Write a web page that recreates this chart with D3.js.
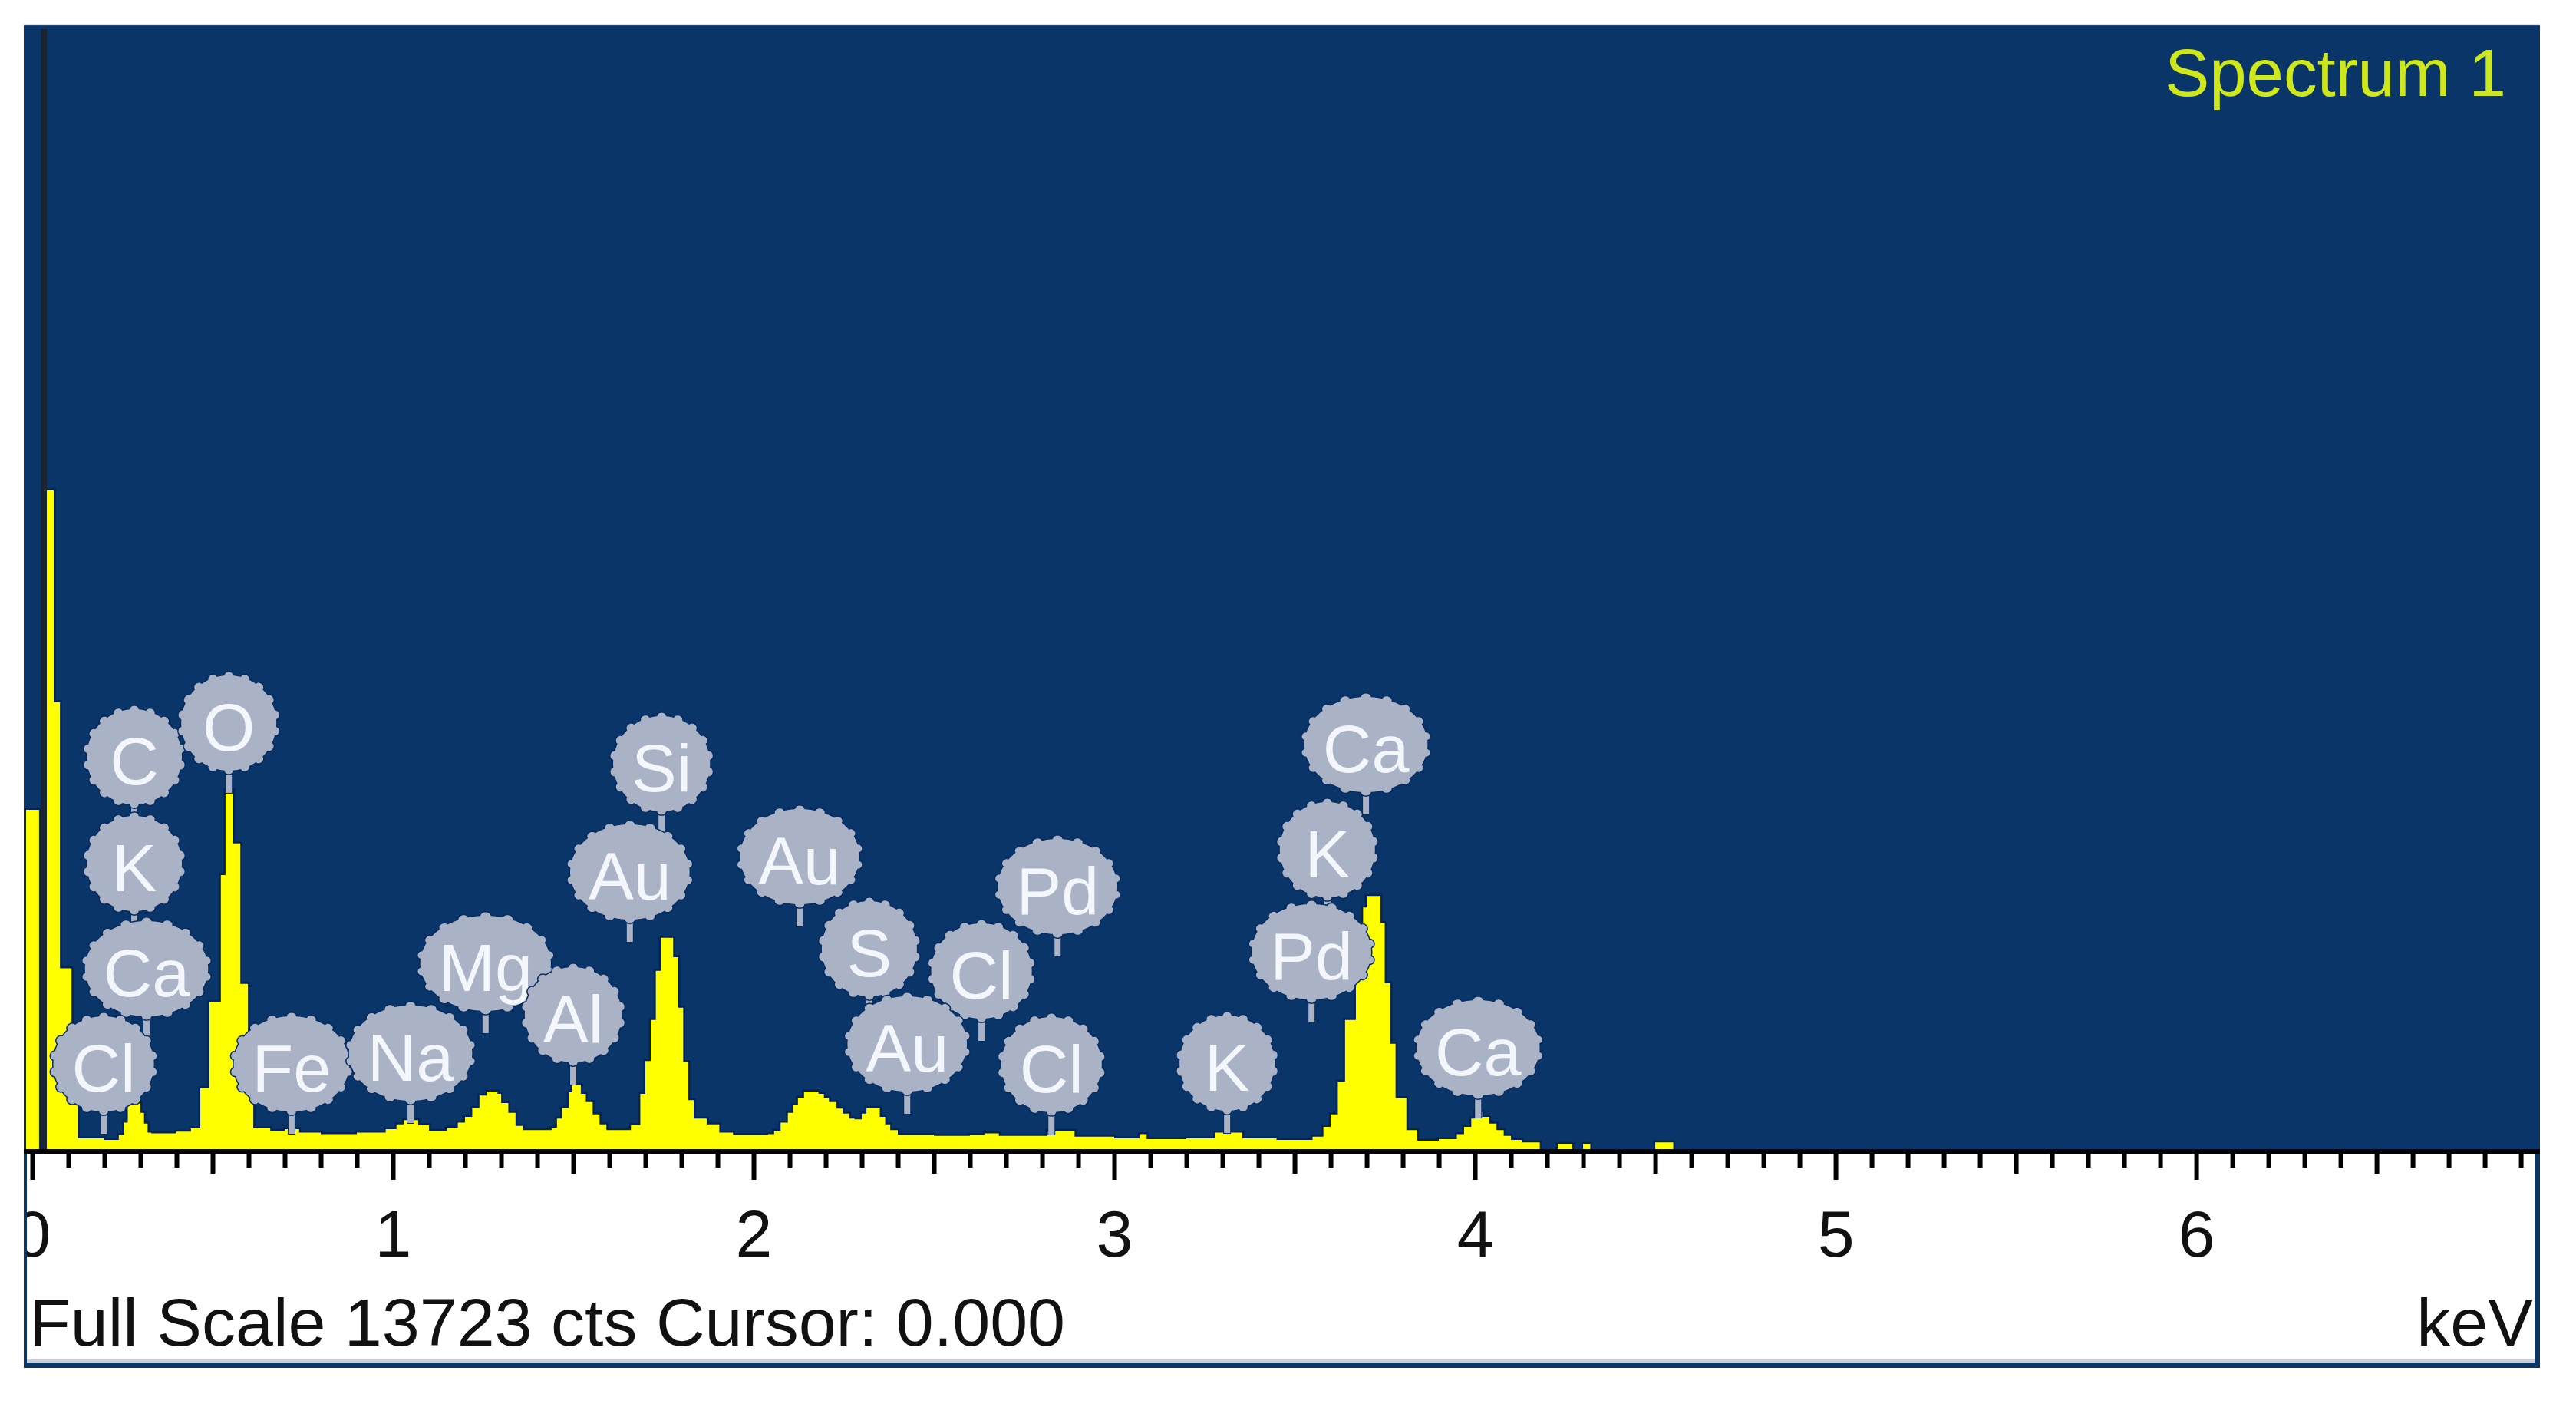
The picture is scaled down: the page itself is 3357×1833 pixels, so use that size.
<!DOCTYPE html>
<html><head><meta charset="utf-8">
<script src="https://cdn.jsdelivr.net/npm/d3@7"></script>
<style>html,body{margin:0;padding:0;background:#fff;} svg{display:block;}</style>
</head><body>
<svg id="chart" width="3357" height="1833"></svg>
<script>
// ---------------- data ----------------
const fullScale = 13723;            // counts at the top of the plot
const cursorText = "0.000";
const cursorKeV = 0.032;            // where the cursor line is drawn
const spectrumName = "Spectrum 1";
const xDomain = [-0.0234, 6.953];   // visible keV range
const majorTicks = [0, 1, 2, 3, 4, 5, 6];
const tickLabels = ["0", "1", "2", "3", "4", "5", "6"];

// histogram steps: energy (keV, left edge of step) and counts
const energies = [
  -0.017, 0.019, 0.036, 0.060, 0.077, 0.109, 0.126, 0.20, 0.24, 0.255,
  0.265, 0.275, 0.29, 0.30, 0.31, 0.32, 0.33, 0.40, 0.44, 0.466,
  0.491, 0.523, 0.536, 0.557, 0.577, 0.598, 0.613, 0.66, 0.70, 0.74,
  0.80, 0.90, 0.98, 1.01, 1.03, 1.07, 1.10, 1.15, 1.18, 1.20,
  1.22, 1.24, 1.26, 1.29, 1.30, 1.32, 1.34, 1.36, 1.44, 1.455,
  1.469, 1.488, 1.497, 1.521, 1.535, 1.554, 1.573, 1.592, 1.66, 1.686,
  1.70, 1.715, 1.729, 1.743, 1.777, 1.791, 1.805, 1.819, 1.834, 1.87,
  1.905, 1.943, 2.04, 2.057, 2.075, 2.095, 2.11, 2.123, 2.14, 2.18,
  2.195, 2.209, 2.23, 2.247, 2.265, 2.28, 2.30, 2.313, 2.35, 2.365,
  2.379, 2.40, 2.50, 2.60, 2.64, 2.68, 2.80, 2.815, 2.89, 3.00,
  3.07, 3.09, 3.20, 3.28, 3.355, 3.45, 3.55, 3.58, 3.60, 3.62,
  3.64, 3.67, 3.69, 3.70, 3.738, 3.75, 3.766, 3.78, 3.81, 3.84,
  3.90, 3.95, 3.97, 3.99, 4.00, 4.02, 4.04, 4.06, 4.08, 4.10,
  4.13, 4.18, 4.23, 4.27, 4.30, 4.32, 4.50, 4.55, 6.953
];
const counts = [
  4160, 0, 8050, 5470, 2230, 1300, 160, 140, 200, 350,
  560, 710, 600, 470, 340, 230, 220, 240, 280, 770,
  1820, 3365, 4400, 3750, 2040, 710, 280, 250, 270, 230,
  210, 230, 270, 330, 380, 320, 250, 290, 350, 420,
  530, 680, 730, 700, 590, 470, 310, 260, 290, 400,
  530, 720, 810, 700, 600, 450, 330, 260, 320, 700,
  1100, 1600, 2200, 2600, 2365, 1750, 1090, 625, 400, 330,
  230, 200, 210, 250, 350, 470, 560, 655, 730, 700,
  650, 600, 520, 460, 400, 390, 460, 530, 420, 330,
  260, 200, 190, 200, 220, 190, 190, 250, 180, 160,
  210, 150, 160, 230, 160, 140, 180, 300, 450, 850,
  1600, 2200, 2970, 3110, 2780, 2050, 1310, 650, 260, 130,
  150, 210, 300, 400, 480, 420, 340, 260, 190, 140,
  110, 0, 90, 0, 90, 0, 110, 0, 0
];

// element line markers: symbol, line energy (keV), count level where the marker stem ends
const lineSymbols  = ["C", "K", "Ca", "Cl", "O", "Fe", "Na", "Mg", "Al", "Si", "Au", "Au", "S", "Cl", "Au", "Pd", "Cl", "K", "Ca", "K", "Pd", "Ca"];
const lineEnergies = [0.283, 0.283, 0.317, 0.198, 0.545, 0.719, 1.049, 1.257, 1.500, 1.745, 1.657, 2.128, 2.321, 2.632, 2.426, 2.843, 2.826, 3.313, 3.698, 3.591, 3.547, 4.009];
const lineLevels   = [3954, 2655, 1374, 215, 4366, 215, 346, 1440, 813, 3870, 2552, 2739, 1617, 1346, 458, 2374, 206, 224, 4104, 2823, 1580, 411];

// ---------------- drawing ----------------
const svg = d3.select("#chart");
const L = 31, R = 3310, T = 32, B = 1500;
const navy = "#0a3569", yellow = "#ffff00";
const font = "'Liberation Sans', Arial, sans-serif";

const x = d3.scaleLinear().domain(xDomain).range([L, R]);
const y = d3.scaleLinear().domain([0, fullScale]).range([B, T]);

const defs = svg.append("defs");
defs.append("clipPath").attr("id", "plotClip").append("rect")
  .attr("x", L).attr("y", T).attr("width", R - L).attr("height", B - T);
defs.append("clipPath").attr("id", "axisClip").append("rect")
  .attr("x", 35).attr("y", B - 5).attr("width", 3304 - 35).attr("height", 270);

// frame
svg.append("rect").attr("x", L).attr("y", T).attr("width", R - L).attr("height", B - T).attr("fill", navy);
svg.append("line").attr("x1", L).attr("x2", R).attr("y1", T + 0.5).attr("y2", T + 0.5).attr("stroke", "#6f8ab0").attr("stroke-width", 1.5);
svg.append("rect").attr("x", L).attr("y", B).attr("width", 4).attr("height", 1782 - B).attr("fill", navy);
svg.append("rect").attr("x", 3304).attr("y", B).attr("width", 6).attr("height", 1782 - B).attr("fill", navy);
svg.append("rect").attr("x", L + 4).attr("y", 1771).attr("width", 3304 - L - 4).attr("height", 5).attr("fill", "#c9d0dc");
svg.append("rect").attr("x", L).attr("y", 1776).attr("width", R - L).attr("height", 6).attr("fill", navy);

// spectrum
const data = energies.map((e, i) => ({ e, c: counts[i] }));
const area = d3.area().x(d => x(d.e)).y0(y(0)).y1(d => y(d.c)).curve(d3.curveStepAfter);
const gSpec = svg.append("g").attr("clip-path", "url(#plotClip)");
gSpec.append("path").datum(data).attr("d", area)
  .attr("fill", yellow).attr("stroke", "#03245a").attr("stroke-width", 5)
  .attr("stroke-linejoin", "miter").style("paint-order", "stroke");

// cursor line
gSpec.append("line").attr("x1", x(cursorKeV)).attr("x2", x(cursorKeV))
  .attr("y1", 38).attr("y2", B).attr("stroke", "#1b2431").attr("stroke-width", 8);

// axis
const allTicks = d3.range(0, 70).map(i => +(i / 10).toFixed(1));
const minor = allTicks.filter(v => Math.abs(v * 2 - Math.round(v * 2)) > 1e-6);
const halves = allTicks.filter(v => Math.abs(v * 2 - Math.round(v * 2)) < 1e-6 && Math.abs(v - Math.round(v)) > 1e-6);
const gAxisOuter = svg.append("g").attr("clip-path", "url(#axisClip)");
const gAxis = gAxisOuter.append("g").attr("transform", `translate(0,${B})`);
function styleAxis(g) {
  g.selectAll(".tick line").attr("stroke", "#000").attr("stroke-width", 6);
  g.select(".domain").remove();
}
gAxis.append("g").call(d3.axisBottom(x).tickValues(minor).tickSize(21).tickFormat("")).call(styleAxis);
gAxis.append("g").call(d3.axisBottom(x).tickValues(halves).tickSize(29).tickFormat("")).call(styleAxis);
gAxis.append("g").call(d3.axisBottom(x).tickValues(majorTicks).tickSize(37).tickPadding(39)
  .tickFormat((d, i) => tickLabels[i])).call(styleAxis)
  .call(g => g.selectAll("text").attr("font-family", font).attr("font-size", 86).attr("fill", "#111"));
svg.append("rect").attr("x", L).attr("y", B - 3).attr("width", R - L).attr("height", 6).attr("fill", "#000");

// footer texts
svg.append("text").attr("x", 38).attr("y", 1753).attr("font-family", font).attr("font-size", 88)
  .attr("fill", "#111").text(`Full Scale ${fullScale} cts Cursor: ${cursorText}`);
svg.append("text").attr("x", 3301).attr("y", 1753).attr("text-anchor", "end").attr("font-family", font)
  .attr("font-size", 88).attr("fill", "#111").text("keV");

// title
svg.append("text").attr("x", 3266).attr("y", 125).attr("text-anchor", "end").attr("font-family", font)
  .attr("font-size", 87).attr("fill", "#cfe81c").text(spectrumName);

// element markers
const ry = 62, stemLen = 29, badgeFill = "#a9b3c5";
function badgePath(rx, ryy) {
  const pts = [], n = 18, N = 540, w = 5.5;
  const circ = 2 * Math.PI * (rx + ryy) / 2;
  for (let i = 0; i < N; i++) {
    const t = i / N * 2 * Math.PI - Math.PI / 2;
    const u = (i / N * n) % 1;
    const dpx = Math.min(u, 1 - u) * circ / n;
    const extra = dpx < w ? Math.sqrt(w * w - dpx * dpx) * 0.8 : 0;
    pts.push([(rx + extra) * Math.cos(t), (ryy + extra) * Math.sin(t)]);
  }
  return d3.line().curve(d3.curveLinearClosed)(pts);
}
const markers = lineSymbols.map((s, i) => ({ s, e: lineEnergies[i], lvl: lineLevels[i] }));
const gStem = svg.append("g"), gBadge = svg.append("g");
markers.forEach(m => {
  const cx = x(m.e), yEnd = y(m.lvl), cy = yEnd - stemLen - ry;
  gStem.append("rect").attr("x", cx - 4).attr("y", cy + ry - 4).attr("width", 8)
    .attr("height", yEnd - (cy + ry - 4)).attr("fill", badgeFill)
    .attr("stroke", "#072c62").attr("stroke-width", 2).style("paint-order", "stroke");
  const g = gBadge.append("g").attr("transform", `translate(${cx},${cy})`);
  const path = g.append("path");
  const t = g.append("text").attr("x", 0).attr("y", 36).attr("text-anchor", "middle")
    .attr("font-family", font).attr("font-size", 88).attr("fill", "#f3f6fb").text(m.s);
  const tw = t.node().getComputedTextLength();
  const rx = Math.max(62, tw / 2 + 24);
  path.attr("d", badgePath(rx, ry)).attr("fill", badgeFill)
    .attr("stroke", "#072c62").attr("stroke-width", 3).style("paint-order", "stroke");
});
</script>
</body></html>
